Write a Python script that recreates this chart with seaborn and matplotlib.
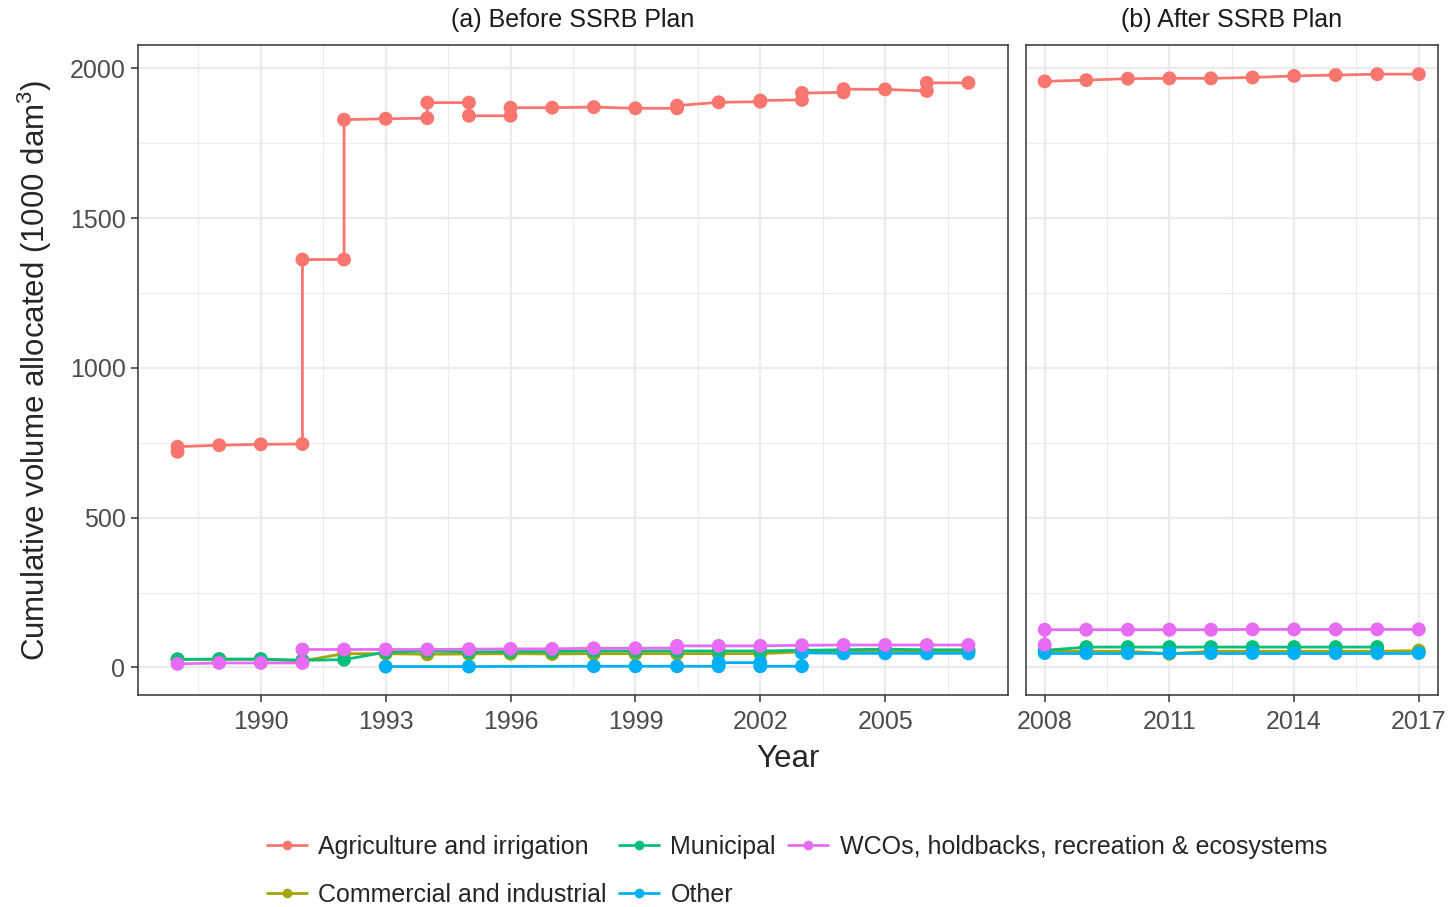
import numpy as np
import pandas as pd
import matplotlib
matplotlib.use("Agg")
import matplotlib.pyplot as plt
from matplotlib.lines import Line2D
from matplotlib.ticker import FixedLocator
import seaborn as sns

sns.set_theme(style="white")
plt.rcParams["font.family"] = ["Liberation Sans", "DejaVu Sans"]
plt.rcParams["mathtext.fontset"] = "custom"
plt.rcParams["mathtext.rm"] = "Liberation Sans"
plt.rcParams["mathtext.it"] = "Liberation Sans:italic"
plt.rcParams["mathtext.bf"] = "Liberation Sans:bold"

categories = [
    "Agriculture and irrigation",
    "Commercial and industrial",
    "Municipal",
    "Other",
    "WCOs, holdbacks, recreation & ecosystems",
]
colors = ["#F8766D", "#A3A500", "#00BF7D", "#00B0F6", "#E76BF3"]

# ---- Before SSRB Plan (1988-2007); repeated years = several licences that year
agri_before_years = [1988, 1988, 1989, 1990, 1991, 1991, 1992, 1992, 1993, 1994, 1994,
                     1995, 1995, 1996, 1996, 1997, 1998, 1999, 2000, 2000, 2001, 2002,
                     2002, 2003, 2003, 2004, 2004, 2005, 2006, 2006, 2007]
agri_before_values = [720, 737, 742, 745, 746, 1362, 1362, 1829, 1832, 1834, 1886,
                      1886, 1842, 1842, 1869, 1869, 1871, 1867, 1867, 1876, 1887, 1889,
                      1893, 1895, 1918, 1920, 1931, 1930, 1925, 1952, 1952]

comm_before_years = [1988, 1989, 1990, 1991, 1992, 1993, 1994, 1995, 1996, 1997,
                     1998, 1999, 2000, 2001, 2002, 2003, 2004, 2005, 2006, 2007]
comm_before_values = [27, 27, 27, 22, 46, 46, 44, 45, 46, 45,
                      46, 46, 46, 46, 46, 52, 53, 53, 53, 53]

muni_before_years = [1988, 1989, 1990, 1991, 1992, 1993, 1994, 1995, 1996, 1997,
                     1998, 1999, 2000, 2001, 2002, 2003, 2004, 2005, 2006, 2007]
muni_before_values = [27, 28, 28, 24, 26, 51, 55, 52, 53, 53,
                      55, 55, 55, 55, 55, 57, 59, 61, 59, 59]

other_before_years = [1993, 1995, 1998, 1999, 2000, 2001, 2001, 2002, 2002, 2003,
                      2003, 2004, 2005, 2006, 2007]
other_before_values = [3, 3, 4, 4, 4, 4, 16, 16, 4, 4,
                       49, 47, 47, 47, 47]

wco_before_years = [1988, 1989, 1990, 1991, 1991, 1992, 1993, 1994, 1995, 1996, 1997,
                    1998, 1999, 2000, 2000, 2001, 2002, 2003, 2004, 2005, 2006, 2007]
wco_before_values = [12, 15, 15, 15, 60, 60, 60, 60, 61, 62, 62,
                     64, 64, 65, 72, 72, 72, 74, 75, 75, 75, 75]

# ---- After SSRB Plan (2008-2017)
agri_after_years = [2008, 2009, 2010, 2011, 2012, 2013, 2014, 2015, 2016, 2017]
agri_after_values = [1957, 1961, 1966, 1967, 1967, 1970, 1975, 1978, 1981, 1981]

comm_after_years = [2008, 2009, 2010, 2011, 2012, 2013, 2014, 2015, 2016, 2017]
comm_after_values = [55, 54, 54, 46, 54, 54, 54, 54, 54, 56]

muni_after_years = [2008, 2009, 2010, 2011, 2012, 2013, 2014, 2015, 2016]
muni_after_values = [57, 68, 68, 68, 68, 68, 68, 68, 68]

other_after_years = [2008, 2009, 2010, 2011, 2012, 2013, 2014, 2015, 2016, 2017]
other_after_values = [48, 48, 48, 48, 48, 48, 48, 48, 48, 48]

wco_after_years = [2008, 2008, 2009, 2010, 2011, 2012, 2013, 2014, 2015, 2016, 2017]
wco_after_values = [76, 126, 126, 126, 126, 126, 127, 127, 127, 127, 127]

series = [
    ("before", categories[0], agri_before_years, agri_before_values),
    ("before", categories[1], comm_before_years, comm_before_values),
    ("before", categories[2], muni_before_years, muni_before_values),
    ("before", categories[3], other_before_years, other_before_values),
    ("before", categories[4], wco_before_years, wco_before_values),
    ("after", categories[0], agri_after_years, agri_after_values),
    ("after", categories[1], comm_after_years, comm_after_values),
    ("after", categories[2], muni_after_years, muni_after_values),
    ("after", categories[3], other_after_years, other_after_values),
    ("after", categories[4], wco_after_years, wco_after_values),
]
frames = []
for period, use, yrs, vals in series:
    frames.append(pd.DataFrame({"period": period, "use": use, "year": yrs, "volume": vals}))
df = pd.concat(frames, ignore_index=True)

palette = dict(zip(categories, colors))

W, H = 1448, 907
fig = plt.figure(figsize=(W / 100, H / 100), dpi=100)
bottom = (H - 695) / H
height = (695 - 44.5) / H
ax_a = fig.add_axes([138 / W, bottom, (1008 - 138) / W, height])
ax_b = fig.add_axes([1026 / W, bottom, (1437.5 - 1026) / W, height])

grid_col = "#EBEBEB"
border_col = "#333333"

panels = [
    (ax_a, "before", (1987.05, 2007.95), [1990, 1993, 1996, 1999, 2002, 2005],
     [1988.5, 1991.5, 1994.5, 1997.5, 2000.5, 2003.5, 2006.5], "(a) Before SSRB Plan"),
    (ax_b, "after", (2007.55, 2017.45), [2008, 2011, 2014, 2017],
     [2009.5, 2012.5, 2015.5], "(b) After SSRB Plan"),
]

for ax, period, xlim, xticks, xminor, title in panels:
    sub = df[df["period"] == period]
    sns.lineplot(data=sub, x="year", y="volume", hue="use", hue_order=categories,
                 palette=palette, estimator=None, sort=False, linewidth=2.0,
                 legend=False, ax=ax)
    sns.scatterplot(data=sub, x="year", y="volume", hue="use", hue_order=categories,
                    palette=palette, s=100, linewidth=0, legend=False, ax=ax, zorder=3)
    ax.set_xlim(*xlim)
    ax.set_ylim(-92, 2080)
    ax.set_xticks(xticks)
    ax.xaxis.set_minor_locator(FixedLocator(xminor))
    ax.set_yticks([0, 500, 1000, 1500, 2000])
    ax.yaxis.set_minor_locator(FixedLocator([250, 750, 1250, 1750]))
    ax.set_axisbelow(True)
    ax.grid(which="major", color=grid_col, linewidth=1.6)
    ax.grid(which="minor", color=grid_col, linewidth=0.8)
    ax.set_xlabel("")
    ax.set_ylabel("")
    for sp in ax.spines.values():
        sp.set_visible(True)
        sp.set_color(border_col)
        sp.set_linewidth(1.1)
    ax.tick_params(axis="both", which="major", direction="out", length=5, width=1.1,
                   color=border_col, labelsize=18, labelcolor="#4D4D4D", pad=4,
                   bottom=True, left=True)
    ax.tick_params(axis="x", which="major", pad=5.5)
    ax.tick_params(axis="both", which="minor", length=0)
    cx = (ax.get_position().x0 + ax.get_position().x1) / 2
    fig.text(cx, 1 - 20 / H, title, ha="center", va="center", fontsize=18, color="#1A1A1A")

ax_b.tick_params(axis="y", which="both", left=False, labelleft=False)

fig.text(787.5 / W, 1 - 759 / H, "Year", ha="center", va="center", fontsize=22.5)
fig.text(35 / W, 1 - 370 / H, "Cumulative volume allocated (1000 dam$^{3}$)",
         ha="center", va="center", rotation=90, fontsize=22.5)

handles = [Line2D([0], [0], color=c, lw=2.0, marker="o", markersize=7,
                  markeredgewidth=0) for c in colors]
fig.legend(handles, categories, loc="center", bbox_to_anchor=(797 / W, 1 - 871 / H),
           ncol=3, frameon=False, fontsize=18, handlelength=1.6, handletextpad=0.45,
           columnspacing=0.5, labelspacing=0.95, borderpad=0)

fig.savefig("out.png", dpi=100)
